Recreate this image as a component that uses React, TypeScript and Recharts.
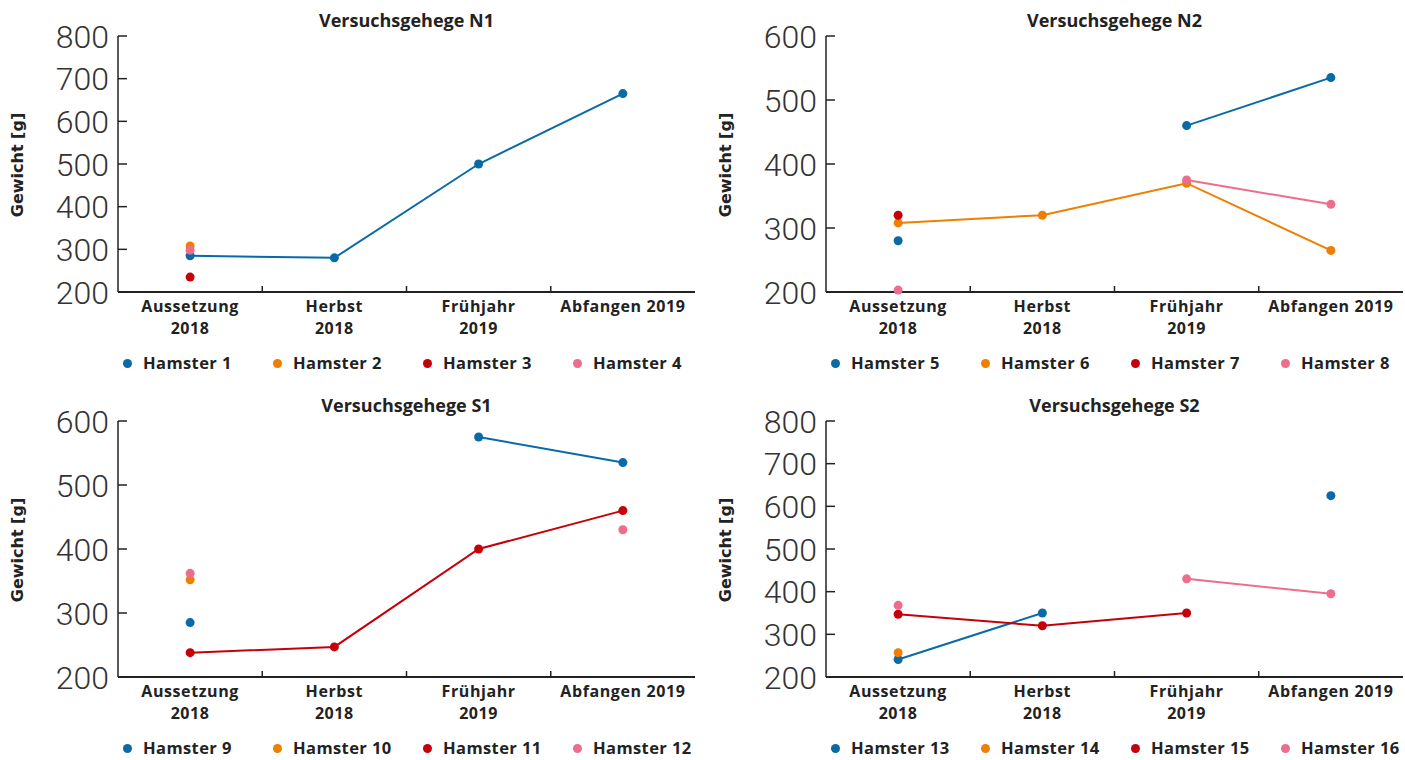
import React from "react";
import { LineChart, Line, XAxis, YAxis } from "recharts";

// categories (x axis)
const categories = ["Aussetzung 2018", "Herbst 2018", "Frühjahr 2019", "Abfangen 2019"];
const categoryLines = [["Aussetzung", "2018"], ["Herbst", "2018"], ["Frühjahr", "2019"], ["Abfangen 2019"]];

// y ticks
const ticks800 = [200, 300, 400, 500, 600, 700, 800];
const ticks600 = [200, 300, 400, 500, 600];

// Versuchsgehege N1
const hamster1 = [285, 280, 500, 665];
const hamster2 = [308, null, null, null];
const hamster3 = [235, null, null, null];
const hamster4 = [298, null, null, null];

// Versuchsgehege N2
const hamster5 = [280, null, 460, 535];
const hamster6 = [308, 320, 370, 265];
const hamster7 = [320, null, null, null];
const hamster8 = [203, null, 375, 337];

// Versuchsgehege S1
const hamster9 = [285, null, 575, 535];
const hamster10 = [352, null, null, null];
const hamster11 = [238, 247, 400, 460];
const hamster12 = [362, null, null, 430];

// Versuchsgehege S2
const hamster13 = [241, 350, null, 625];
const hamster14 = [257, null, null, null];
const hamster15 = [347, 320, 350, null];
const hamster16 = [368, null, 430, 395];

const colors = ["#0a6aa6", "#ef7f00", "#c6000b", "#ec6e8c"];

const CHART_W = 700;
const CHART_H = 345;
const Y_W = 118;
const RIGHT = 5;
const TOP = 36;
const X_H = 53;
const BAND = (CHART_W - Y_W - RIGHT) / categories.length;

const boldFont = "'Open Sans', sans-serif";
const ink = "#222";

function YTick(props: any) {
  const { x, y, payload } = props;
  return (
    <g>
      <line x1={x} x2={x + 9} y1={y} y2={y} stroke={ink} strokeWidth={1.5} />
      <text
        x={x - 9}
        y={y}
        dy="0.36em"
        textAnchor="end"
        fontFamily="Roboto, sans-serif"
        fontWeight={300}
        fontSize={32}
        fill="#333"
      >
        {payload.value}
      </text>
    </g>
  );
}

function XTick(props: any) {
  const { x, y, index } = props;
  const lines = categoryLines[index] || [];
  return (
    <g>
      {index < categories.length - 1 && (
        <line x1={x + BAND / 2} x2={x + BAND / 2} y1={y} y2={y - 6} stroke={ink} strokeWidth={1.5} />
      )}
      {lines.map((t, i) => (
        <text
          key={i}
          x={x}
          y={y + 20 + i * 22}
          textAnchor="middle"
          fontFamily={boldFont}
          fontWeight={700}
          fontSize={16}
          letterSpacing={0.6}
          fill={ink}
        >
          {t}
        </text>
      ))}
    </g>
  );
}

type Panel = {
  title: string;
  names: string[];
  values: (number | null)[][];
  ticks: number[];
  left: number;
  top: number;
};

function Enclosure({ title, names, values, ticks, left, top }: Panel) {
  const data = categories.map((c, i) => {
    const row: any = { cat: c };
    names.forEach((n, k) => (row[n] = values[k][i]));
    return row;
  });
  return (
    <div style={{ position: "absolute", left, top, width: CHART_W, height: 375 }}>
      <div
        style={{
          position: "absolute",
          left: Y_W,
          width: CHART_W - Y_W - RIGHT,
          top: 8,
          textAlign: "center",
          fontFamily: boldFont,
          fontWeight: 700,
          fontSize: 18,
          lineHeight: "24px",
          color: ink,
        }}
      >
        {title}
      </div>
      <div
        style={{
          position: "absolute",
          left: 18 - 60,
          top: 165 - 10,
          width: 120,
          height: 20,
          lineHeight: "20px",
          textAlign: "center",
          transform: "rotate(-90deg)",
          fontFamily: "'DejaVu Sans', sans-serif",
          fontWeight: 700,
          fontSize: 16,
          color: ink,
        }}
      >
        Gewicht [g]
      </div>
      <LineChart width={CHART_W} height={CHART_H} data={data} margin={{ top: TOP, right: RIGHT, left: 0, bottom: 0 }}>
        <XAxis
          dataKey="cat"
          interval={0}
          height={X_H}
          padding={{ left: BAND / 2, right: BAND / 2 }}
          axisLine={{ stroke: ink, strokeWidth: 2 }}
          tickLine={false}
          tickSize={0}
          tickMargin={0}
          tick={<XTick />}
        />
        <YAxis
          width={Y_W}
          domain={[ticks[0], ticks[ticks.length - 1]]}
          ticks={ticks}
          interval={0}
          axisLine={{ stroke: ink, strokeWidth: 1.5 }}
          tickLine={false}
          tickSize={0}
          tickMargin={0}
          tick={<YTick />}
        />
        {names.map((n, k) => (
          <Line
            key={n}
            dataKey={n}
            stroke={colors[k]}
            strokeWidth={2}
            connectNulls={false}
            dot={{ r: 4.5, fill: colors[k], stroke: colors[k], strokeWidth: 0 }}
            activeDot={false}
            isAnimationActive={false}
          />
        ))}
      </LineChart>
      <div style={{ position: "absolute", left: Y_W + 2, top: 351, display: "flex" }}>
        {names.map((n, k) => (
          <div key={n} style={{ width: 150, height: 24, display: "flex", alignItems: "center" }}>
            <span
              style={{ width: 9, height: 9, borderRadius: "50%", background: colors[k], marginLeft: 3, marginRight: 11 }}
            />
            <span
              style={{
                fontFamily: boldFont,
                fontWeight: 700,
                fontSize: 16.5,
                letterSpacing: 0.4,
                lineHeight: "24px",
                color: ink,
              }}
            >
              {n}
            </span>
          </div>
        ))}
      </div>
    </div>
  );
}

export default function App() {
  return (
    <div style={{ position: "absolute", left: 0, top: 0, width: 1405, height: 760, background: "#fff" }}>
      <Enclosure
        title="Versuchsgehege N1"
        names={["Hamster 1", "Hamster 2", "Hamster 3", "Hamster 4"]}
        values={[hamster1, hamster2, hamster3, hamster4]}
        ticks={ticks800}
        left={0}
        top={0}
      />
      <Enclosure
        title="Versuchsgehege N2"
        names={["Hamster 5", "Hamster 6", "Hamster 7", "Hamster 8"]}
        values={[hamster5, hamster6, hamster7, hamster8]}
        ticks={ticks600}
        left={708}
        top={0}
      />
      <Enclosure
        title="Versuchsgehege S1"
        names={["Hamster 9", "Hamster 10", "Hamster 11", "Hamster 12"]}
        values={[hamster9, hamster10, hamster11, hamster12]}
        ticks={ticks600}
        left={0}
        top={385}
      />
      <Enclosure
        title="Versuchsgehege S2"
        names={["Hamster 13", "Hamster 14", "Hamster 15", "Hamster 16"]}
        values={[hamster13, hamster14, hamster15, hamster16]}
        ticks={ticks800}
        left={708}
        top={385}
      />
    </div>
  );
}
